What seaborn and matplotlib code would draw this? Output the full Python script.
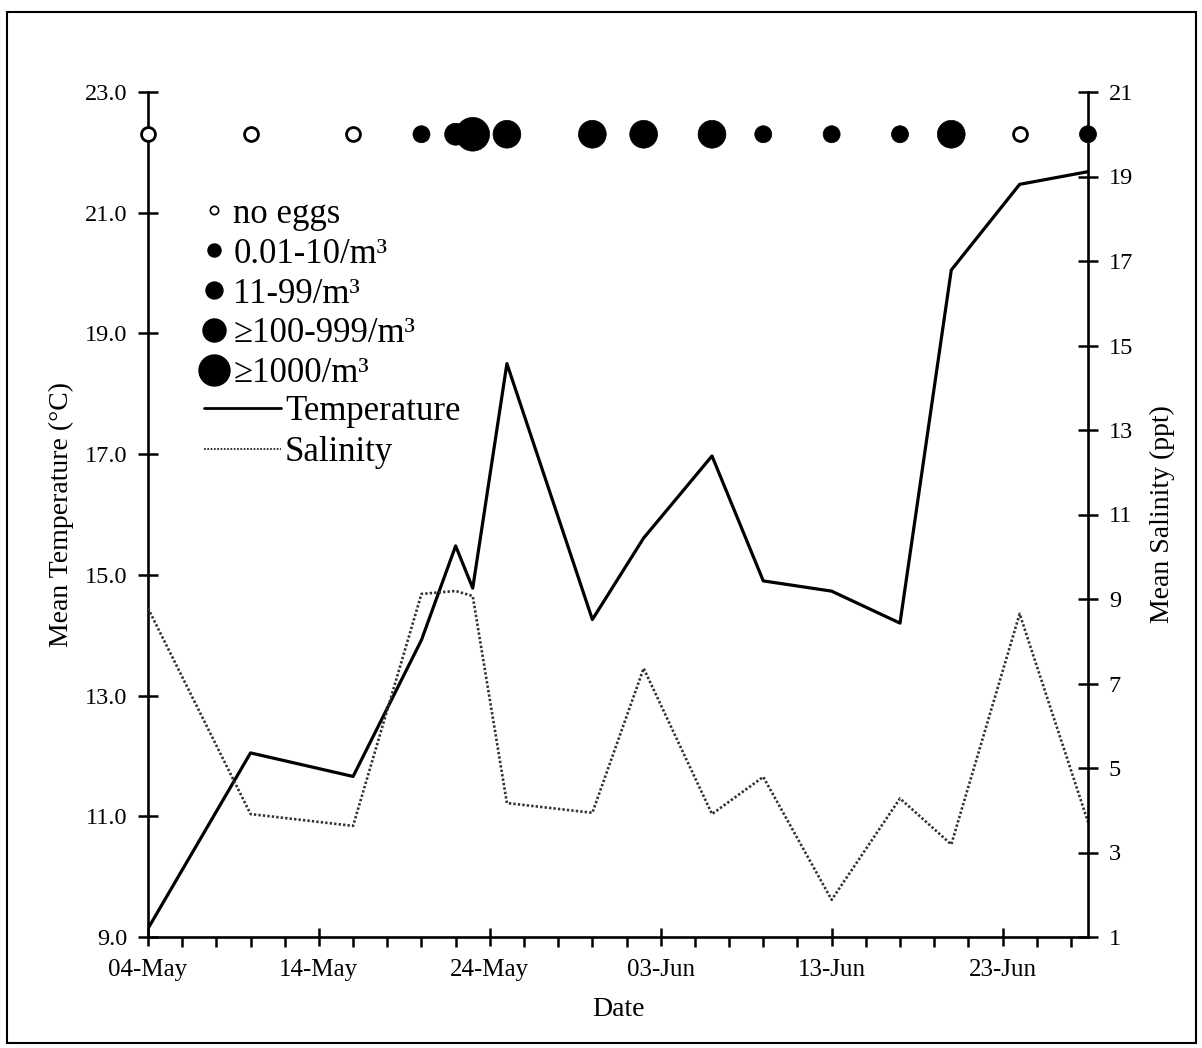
import matplotlib
matplotlib.use("Agg")
import matplotlib.pyplot as plt
import matplotlib.dates as mdates
from matplotlib.lines import Line2D
from matplotlib.patches import Rectangle
from matplotlib.ticker import FixedLocator
import seaborn as sns
import pandas as pd

# ---------------- data ----------------
sample_dates = ["2015-05-04", "2015-05-10", "2015-05-16", "2015-05-20", "2015-05-22",
                "2015-05-23", "2015-05-25", "2015-05-30", "2015-06-02", "2015-06-06",
                "2015-06-09", "2015-06-13", "2015-06-17", "2015-06-20", "2015-06-24",
                "2015-06-28"]
temperature = [9.14, 12.05, 11.66, 13.92, 15.48, 14.78, 18.50, 14.26, 15.61, 16.97,
               14.90, 14.73, 14.20, 20.05, 21.47, 21.68]
salinity = [8.78, 3.91, 3.63, 9.12, 9.19, 9.07, 4.17, 3.94, 7.36, 3.91,
            4.79, 1.88, 4.28, 3.19, 8.65, 3.72]
egg_density = ["none", "none", "none", "0.01-10", "11-99",
               ">=1000", "100-999", "100-999", "100-999", "100-999",
               "0.01-10", "0.01-10", "0.01-10", "100-999", "none",
               "0.01-10"]

density_order = ["none", "0.01-10", "11-99", "100-999", ">=1000"]
density_labels = ["no eggs", "0.01-10/m³", "11-99/m³", "≥100-999/m³", "≥1000/m³"]

left_ticks = [9.0, 11.0, 13.0, 15.0, 17.0, 19.0, 21.0, 23.0]
left_ticklabels = ["9.0", "11.0", "13.0", "15.0", "17.0", "19.0", "21.0", "23.0"]
right_ticks = [1, 3, 5, 7, 9, 11, 13, 15, 17, 19, 21]
x_major_dates = ["2015-05-04", "2015-05-14", "2015-05-24", "2015-06-03", "2015-06-13", "2015-06-23"]
x_start, x_end = "2015-05-04", "2015-06-28"

# ---------------- style ----------------
sns.set_theme(style="ticks", rc={"axes.edgecolor": "black", "text.color": "black",
                                 "axes.labelcolor": "black", "xtick.color": "black",
                                 "ytick.color": "black"})
plt.rcParams["font.family"] = ["Liberation Serif", "DejaVu Serif"]

EGG_ROW = 22.3
size_map = {"none": 100, "0.01-10": 150, "11-99": 250, "100-999": 400, ">=1000": 590}

df = pd.DataFrame({"date": pd.to_datetime(sample_dates), "temperature": temperature,
                   "salinity": salinity, "density": egg_density})
df["row"] = EGG_ROW

fig = plt.figure(figsize=(12.02, 10.48), dpi=100)
ax = fig.add_axes([148 / 1202, 1 - 937 / 1048, 940 / 1202, 845 / 1048])
ax2 = ax.twinx()

sns.lineplot(data=df, x="date", y="temperature", ax=ax, color="black", lw=2.3)
sns.lineplot(data=df, x="date", y="salinity", ax=ax2, color="#333333", lw=1.9,
             linestyle=(0, (0.9, 0.8)))

empty = df[df["density"] == "none"]
full = df[df["density"] != "none"]
sns.scatterplot(data=empty, x="date", y="row", ax=ax, color="white", edgecolor="black",
                linewidth=2.0, s=size_map["none"], legend=False, clip_on=False, zorder=6)
sns.scatterplot(data=full, x="date", y="row", ax=ax, size="density", sizes=size_map,
                size_order=density_order, color="black", edgecolor="black", linewidth=0.5,
                legend=False, clip_on=False, zorder=6)

# ---------------- axes ----------------
ax.set_xlim(pd.Timestamp(x_start), pd.Timestamp(x_end))
ax.set_ylim(9, 23)
ax2.set_ylim(1, 21)

major = [mdates.date2num(pd.Timestamp(d)) for d in x_major_dates]
minor = [mdates.date2num(d) for d in pd.date_range(x_start, x_end, freq="2D")]
ax.xaxis.set_major_locator(FixedLocator(major))
ax.xaxis.set_minor_locator(FixedLocator(minor))
ax.xaxis.set_major_formatter(mdates.DateFormatter("%d-%b"))
ax.set_yticks(left_ticks)
ax.set_yticklabels(left_ticklabels)
ax2.set_yticks(right_ticks)
ax2.set_yticklabels([str(t) for t in right_ticks])

for a in (ax, ax2):
    a.spines["top"].set_visible(False)
    for s in a.spines.values():
        s.set_linewidth(1.9)
ax.spines["right"].set_visible(False)
ax2.spines["left"].set_visible(False)
ax2.spines["bottom"].set_visible(False)

ax.tick_params(axis="x", which="major", direction="inout", length=13, width=1.8,
               labelsize=18, pad=9)
ax.tick_params(axis="x", which="minor", direction="out", length=7, width=1.8)
ax.tick_params(axis="y", which="major", direction="inout", length=14, width=1.8,
               labelsize=17.5, pad=8)
ax2.tick_params(axis="y", which="major", direction="inout", length=14, width=1.8,
                labelsize=17.5, pad=8)

ax.set_xlabel("Date", fontsize=20, labelpad=12)
ax.set_ylabel("Mean Temperature (°C)", fontsize=20, labelpad=8)
ax2.set_ylabel("Mean Salinity (ppt)", fontsize=20, labelpad=12)

# ---------------- legends ----------------
legend_ms = {"none": 6.0, "0.01-10": 9.4, "11-99": 12.2, "100-999": 16.6, ">=1000": 22.3}
marker_handles = []
for key in density_order:
    if key == "none":
        h = Line2D([], [], ls="none", marker="o", ms=legend_ms[key], mfc="white",
                   mec="black", mew=1.2)
    else:
        h = Line2D([], [], ls="none", marker="o", ms=legend_ms[key], mfc="black",
                   mec="black")
    marker_handles.append(h)
leg1 = ax2.legend(marker_handles, density_labels, loc="upper left",
                  bbox_to_anchor=(0.054, 0.875), frameon=False, fontsize=25,
                  handlelength=0.9, handletextpad=0.1, labelspacing=0.2,
                  borderpad=0, borderaxespad=0)
ax2.add_artist(leg1)
line_handles = [Line2D([], [], color="black", lw=2.0),
                Line2D([], [], color="#333333", lw=1.4, ls=(0, (0.9, 0.8)))]
ax2.legend(line_handles, ["Temperature", "Salinity"], loc="upper left",
           bbox_to_anchor=(0.06, 0.641), frameon=False, fontsize=25,
           handlelength=2.2, handletextpad=0.12, labelspacing=0.22,
           borderpad=0, borderaxespad=0)

fig.patches.append(Rectangle((0.006, 0.005), 0.989, 0.984, transform=fig.transFigure,
                             fill=False, edgecolor="black", lw=1.5))

fig.savefig("out.png", dpi=100)
